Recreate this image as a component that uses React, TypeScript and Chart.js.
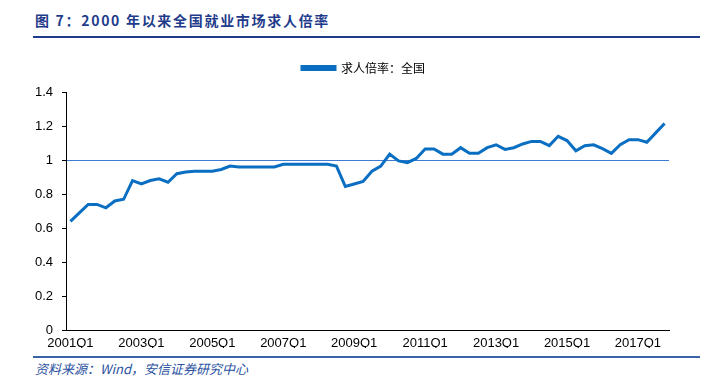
import React, { useEffect, useRef } from "react";
import { Chart, registerables } from "chart.js";

Chart.register(...registerables);

const years = [2001, 2002, 2003, 2004, 2005, 2006, 2007, 2008, 2009, 2010, 2011, 2012, 2013, 2014, 2015, 2016, 2017];
const quarters = ["Q1", "Q2", "Q3", "Q4"];
const categories: string[] = [];
years.forEach((y) => quarters.forEach((q) => categories.push(`${y}${q}`)));

const seriesName = "求人倍率：全国";
const ratio = [
  0.64, 0.69, 0.74, 0.74, 0.72, 0.76, 0.77, 0.88,
  0.86, 0.88, 0.89, 0.87, 0.92, 0.93, 0.935, 0.935,
  0.935, 0.945, 0.965, 0.96, 0.96, 0.96, 0.96, 0.96,
  0.975, 0.975, 0.975, 0.975, 0.975, 0.975, 0.965, 0.845,
  0.86, 0.875, 0.935, 0.965, 1.035, 0.995, 0.985, 1.01,
  1.065, 1.065, 1.035, 1.035, 1.073, 1.04, 1.04, 1.073,
  1.09, 1.063, 1.073, 1.095, 1.11, 1.11, 1.085, 1.14,
  1.115, 1.055, 1.085, 1.09, 1.067, 1.04, 1.09, 1.12,
  1.12, 1.105, 1.16, 1.215,
];
const yTicks = [0, 0.2, 0.4, 0.6, 0.8, 1, 1.2, 1.4];
const referenceValue = 1;

const titleText = "图 7：2000 年以来全国就业市场求人倍率";
const sourceText = "资料来源：Wind，安信证券研究中心";

const legendAdjust = {
  id: "legendAdjust",
  beforeInit(chart: any) {
    const legend = chart.legend;
    if (!legend) return;
    const origFit = legend.fit;
    legend.fit = function () {
      origFit.call(this);
      this.height += 8;
    };
  },
  afterUpdate(chart: any) {
    const legend = chart.legend;
    if (!legend) return;
    legend.left += 29;
    legend.right += 29;
  },
};

export default function App() {
  const canvasRef = useRef<HTMLCanvasElement | null>(null);

  useEffect(() => {
    if (!canvasRef.current) return;
    const chart = new Chart(canvasRef.current, {
      type: "line",
      data: {
        labels: categories,
        datasets: [
          {
            label: seriesName,
            data: ratio,
            borderColor: "#0A6FC2",
            backgroundColor: "#0A6FC2",
            borderWidth: 3,
            pointRadius: 0,
            tension: 0,
          },
        ],
      },
      plugins: [legendAdjust],
      options: {
        animation: false,
        responsive: false,
        maintainAspectRatio: false,
        layout: { padding: { left: 0, right: 40, top: 3, bottom: 0 } },
        plugins: {
          legend: {
            display: true,
            position: "top",
            labels: {
              boxWidth: 33,
              boxHeight: 3,
              padding: 14,
              color: "#000",
              font: { family: "'Noto Sans CJK SC', sans-serif", size: 12 },
            },
          },
          tooltip: { enabled: false },
        },
        scales: {
          x: {
            type: "category",
            offset: true,
            grid: { display: false },
            border: { display: true, color: "#000", width: 1 },
            ticks: {
              autoSkip: false,
              maxRotation: 0,
              minRotation: 0,
              padding: -3,
              color: "#000",
              font: { family: "'Liberation Sans', Arial, sans-serif", size: 13 },
              callback: (_v: any, i: number) => (i % 8 === 0 ? categories[i] : ""),
            },
          },
          y: {
            min: 0,
            max: 1.4,
            afterBuildTicks: (axis: any) => {
              axis.ticks = yTicks.map((v) => ({ value: v }));
            },
            afterFit: (axis: any) => {
              axis.width = 66;
            },
            border: { display: true, color: "#000", width: 1 },
            grid: {
              drawOnChartArea: true,
              drawTicks: true,
              tickLength: 4,
              tickColor: "#000",
              lineWidth: 1,
              color: (ctx: any) => (ctx.tick && ctx.tick.value === referenceValue ? "#3F7BD0" : "rgba(0,0,0,0)"),
            },
            ticks: {
              padding: 9,
              color: "#000",
              font: { family: "'Liberation Sans', Arial, sans-serif", size: 13 },
              callback: (v: any) => String(Math.round(Number(v) * 10) / 10),
            },
          },
        },
      },
    });
    return () => chart.destroy();
  }, []);

  return (
    <div style={{ position: "fixed", left: 0, top: 0, width: 709, height: 385, background: "#fff", overflow: "hidden" }}>
      <div
        style={{
          position: "absolute",
          left: 35,
          top: 10,
          fontFamily: "'Noto Sans CJK SC', sans-serif",
          fontWeight: 700,
          fontSize: 14,
          letterSpacing: 1.7,
          color: "#1F3C8C",
          whiteSpace: "nowrap",
          lineHeight: "20px",
        }}
      >
        {titleText}
      </div>
      <div style={{ position: "absolute", left: 33, top: 36, width: 667, height: 2, background: "#1F3C8C" }} />
      <canvas ref={canvasRef} width={709} height={303} style={{ position: "absolute", left: 0, top: 45, width: 709, height: 303 }} />
      <div style={{ position: "absolute", left: 33, top: 356, width: 667, height: 2, background: "#3A62A8" }} />
      <div
        style={{
          position: "absolute",
          left: 35,
          top: 360,
          fontFamily: "'Noto Sans CJK SC', sans-serif",
          fontStyle: "italic",
          fontSize: 13,
          color: "#2A52A0",
          whiteSpace: "nowrap",
          lineHeight: "17px",
        }}
      >
        {sourceText}
      </div>
    </div>
  );
}
